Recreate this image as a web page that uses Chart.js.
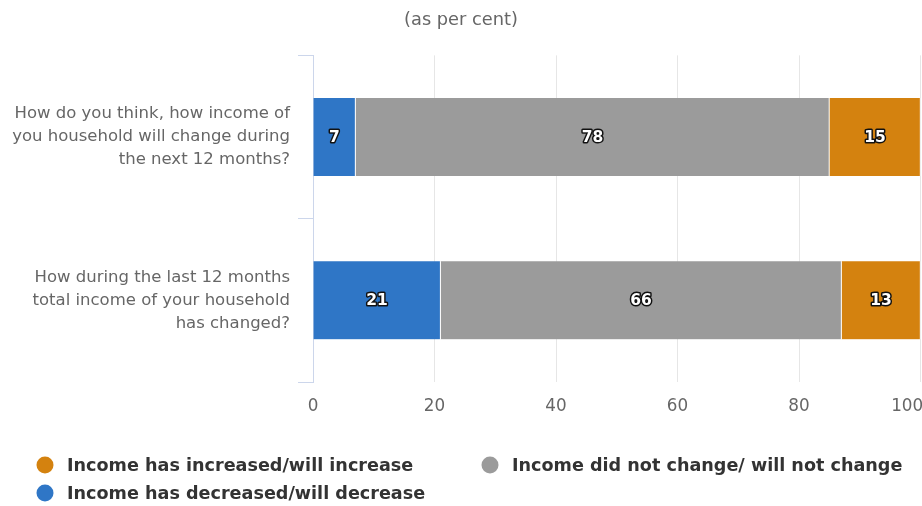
<!DOCTYPE html>
<html>
<head>
<meta charset="utf-8">
<script src="https://cdn.jsdelivr.net/npm/chart.js@4.4.0/dist/chart.umd.min.js"></script>
<style>
  html, body { margin: 0; padding: 0; background: #fff; overflow: hidden; }
  #wrap { width: 922px; height: 506px; position: relative; }
</style>
</head>
<body>
<div id="wrap"><canvas id="incomeChart"></canvas></div>
<script>
// categories (multi-line labels like the picture)
var questions = [
    ['How do you think, how income of', 'you household will change during', 'the next 12 months?'],
    ['How during the last 12 months', 'total income of your household', 'has changed?']
];
var seriesNames = ['Income has decreased/will decrease', 'Income did not change/ will not change', 'Income has increased/will increase'];
var decreased = [7, 21];
var noChange = [78, 66];
var increased = [15, 13];
var xTicks = [0, 20, 40, 60, 80, 100];
var subtitle = '(as per cent)';

var colors = ['#2f76c6', '#9b9b9b', '#d4820f'];
var FONT = 'DejaVu Sans';

// white numbers with dark outline, in the middle of every segment
var barLabels = {
    id: 'barLabels',
    afterDatasetsDraw: function(chart){
        var ctx = chart.ctx;
        ctx.save();
        ctx.font = 'bold 15.5px "' + FONT + '"';
        ctx.textAlign = 'center';
        ctx.textBaseline = 'middle';
        ctx.lineJoin = 'round';
        chart.data.datasets.forEach(function(ds, i){
            var meta = chart.getDatasetMeta(i);
            meta.data.forEach(function(bar, j){
                var p = bar.getCenterPoint();
                var txt = String(ds.data[j]);
                ctx.lineWidth = 3;
                ctx.strokeStyle = '#111';
                ctx.strokeText(txt, p.x, p.y + 1);
                ctx.fillStyle = '#fff';
                ctx.fillText(txt, p.x, p.y + 1);
            });
        });
        ctx.restore();
    }
};

// legend laid out in two columns like the original
var columnLegend = {
    id: 'columnLegend',
    afterDraw: function(chart){
        var ctx = chart.ctx;
        var order = [2, 1, 0];
        ctx.save();
        ctx.font = 'bold 17.6px "' + FONT + '"';
        ctx.textBaseline = 'middle';
        ctx.textAlign = 'left';
        order.forEach(function(idx, k){
            var ds = chart.data.datasets[idx];
            var col = k % 2, row = Math.floor(k / 2);
            var x = 45 + col * 445;
            var y = 465 + row * 28;
            ctx.beginPath();
            ctx.arc(x, y, 8.5, 0, Math.PI * 2);
            ctx.fillStyle = ds.backgroundColor;
            ctx.fill();
            ctx.fillStyle = '#333';
            ctx.fillText(ds.label, x + 22, y + 1);
        });
        ctx.restore();
    }
};

new Chart(document.getElementById('incomeChart'), {
    type: 'bar',
    data: {
        labels: questions,
        datasets: [
            { label: seriesNames[0], data: decreased, backgroundColor: colors[0] },
            { label: seriesNames[1], data: noChange, backgroundColor: colors[1] },
            { label: seriesNames[2], data: increased, backgroundColor: colors[2] }
        ].map(function(d){
            d.borderColor = '#fff';
            d.borderWidth = { top: 0, bottom: 0, left: 0, right: 1 };
            d.borderSkipped = false;
            d.barThickness = 78;
            return d;
        })
    },
    options: {
        indexAxis: 'y',
        responsive: true,
        maintainAspectRatio: false,
        animation: false,
        layout: { padding: { left: 0, right: 0, top: 0, bottom: 91 } },
        plugins: {
            legend: { display: false },
            tooltip: { enabled: false },
            title: {
                display: true,
                text: subtitle,
                color: '#666',
                font: { family: FONT, size: 17.8, weight: 'normal' },
                padding: { top: 10, bottom: 24 }
            }
        },
        scales: {
            x: {
                stacked: true,
                min: 0,
                max: 100,
                afterBuildTicks: function(scale){
                    scale.ticks = xTicks.map(function(v){ return { value: v }; });
                },
                afterFit: function(scale){
                    scale.height = 33;
                    scale.paddingRight = 1.5;
                    scale.paddingLeft = 0;
                },
                border: { display: false },
                grid: { color: '#e6e6e6', drawTicks: false },
                ticks: {
                    color: '#666',
                    padding: 15,
                    font: { family: FONT, size: 16.8 },
                    // last label pulled in from the edge, like the original
                    callback: function(v, i, ticks){
                        return i === ticks.length - 1 ? v + '\u00a0\u00a0\u00a0\u00a0\u00a0' : v;
                    }
                }
            },
            y: {
                stacked: true,
                afterFit: function(scale){ scale.width = 313; },
                border: { display: true, color: '#ccd6eb' },
                grid: { drawOnChartArea: false, drawTicks: true, tickLength: 15, color: '#ccd6eb', offset: true },
                ticks: {
                    color: '#666',
                    padding: 8,
                    font: { family: FONT, size: 16.5, lineHeight: 1.39 }
                }
            }
        }
    },
    plugins: [barLabels, columnLegend]
});
</script>
</body>
</html>
